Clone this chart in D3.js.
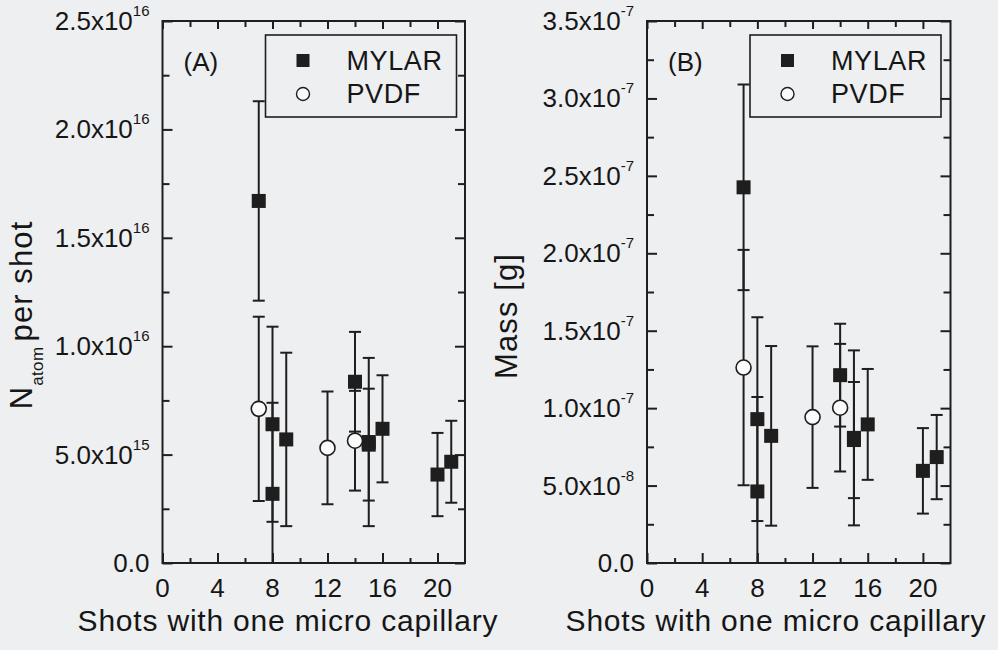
<!DOCTYPE html>
<html>
<head>
<meta charset="utf-8">
<title>Shots with one micro capillary</title>
<script src="https://cdn.jsdelivr.net/npm/d3@7"></script>
<style>
  body { margin:0; background:#eeeff1; }
  svg { display:block; font-family:"Liberation Sans", Arial, sans-serif; fill:#161616; }
  .ax line { stroke:#1e1e1e; stroke-width:2; }
  .ax text { display:none; }
  .ax .domain { display:none; }
</style>
</head>
<body>
<svg id="chart" width="998" height="650"></svg>
<script>
// shot number of every point
var mylarShots = [7, 8, 8, 9, 14, 15, 15, 16, 20, 21];
var pvdfShots  = [7, 12, 14];

// (A) atoms per shot
var mylarAtoms    = [16.7e15, 6.4e15, 3.19e15, 5.7e15, 8.36e15, 5.58e15, 5.46e15, 6.19e15, 4.08e15, 4.67e15];
var mylarAtomsErr = [4.6e15, 4.5e15, 4.2e15, 4.0e15, 2.3e15, 3.88e15, 2.58e15, 2.47e15, 1.92e15, 1.89e15];
var pvdfAtoms     = [7.11e15, 5.31e15, 5.64e15];
var pvdfAtomsErr  = [4.25e15, 2.6e15, 2.3e15];

// (B) mass in g
var mylarMass    = [24.26e-8, 9.29e-8, 4.62e-8, 8.21e-8, 12.13e-8, 8.08e-8, 7.94e-8, 8.95e-8, 5.95e-8, 6.84e-8];
var mylarMassErr = [6.64e-8, 6.58e-8, 6.1e-8, 5.8e-8, 3.32e-8, 5.65e-8, 3.75e-8, 3.58e-8, 2.76e-8, 2.72e-8];
var pvdfMass     = [12.62e-8, 9.42e-8, 10.03e-8];
var pvdfMassErr  = [7.6e-8, 4.57e-8, 4.12e-8];

// ticks
var xTicks = [0, 4, 8, 12, 16, 20];
var yTicksA = [0, 5e15, 1e16, 1.5e16, 2e16, 2.5e16];
var yLabelsA = ["0.0", "5.0x10^15", "1.0x10^16", "1.5x10^16", "2.0x10^16", "2.5x10^16"];
var yTicksB = [0, 0.5e-7, 1e-7, 1.5e-7, 2e-7, 2.5e-7, 3e-7, 3.5e-7];
var yLabelsB = ["0.0", "5.0x10^-8", "1.0x10^-7", "1.5x10^-7", "2.0x10^-7", "2.5x10^-7", "3.0x10^-7", "3.5x10^-7"];

var svg = d3.select("#chart");
var ink = "#1e1e1e";
var top_ = 21, bottom = 563;

function drawPanel(p) {
	var g = svg.append("g");
	var x = d3.scaleLinear().domain([0, 22]).range([p.left, p.right]);
	var y = d3.scaleLinear().domain([0, p.ymax]).range([bottom, top_]);

	var xMinor = d3.range(2, 22, 4);
	var yMinor = p.yticks.slice(0, -1).map(function(v, i) { return (v + p.yticks[i + 1]) / 2; });

	// inward ticks on all four sides
	g.append("g").attr("class", "ax").attr("transform", "translate(0," + bottom + ")")
		.call(d3.axisBottom(x).tickValues(xTicks).tickSize(-10));
	g.append("g").attr("class", "ax").attr("transform", "translate(0," + bottom + ")")
		.call(d3.axisBottom(x).tickValues(xMinor).tickSize(-5));
	g.append("g").attr("class", "ax").attr("transform", "translate(0," + top_ + ")")
		.call(d3.axisTop(x).tickValues(xTicks).tickSize(-8));
	g.append("g").attr("class", "ax").attr("transform", "translate(0," + top_ + ")")
		.call(d3.axisTop(x).tickValues(xMinor).tickSize(-6));
	g.append("g").attr("class", "ax").attr("transform", "translate(" + p.left + ",0)")
		.call(d3.axisLeft(y).tickValues(p.yticks).tickSize(-10));
	g.append("g").attr("class", "ax").attr("transform", "translate(" + p.left + ",0)")
		.call(d3.axisLeft(y).tickValues(yMinor).tickSize(-7));
	g.append("g").attr("class", "ax").attr("transform", "translate(" + p.right + ",0)")
		.call(d3.axisRight(y).tickValues(p.yticks).tickSize(-10));
	g.append("g").attr("class", "ax").attr("transform", "translate(" + p.right + ",0)")
		.call(d3.axisRight(y).tickValues(yMinor).tickSize(-7));

	g.append("rect")
		.attr("x", p.left).attr("y", top_)
		.attr("width", p.right - p.left).attr("height", bottom - top_)
		.style("fill", "none").style("stroke", ink).style("stroke-width", 2);

	// y tick labels with superscript exponent
	p.yticks.forEach(function(v, i) {
		var parts = p.ylabels[i].split("^");
		var t = g.append("text")
			.attr("x", p.left - 13).attr("y", y(v) + 9)
			.attr("text-anchor", "end")
			.style("font-size", "26px");
		t.append("tspan").text(parts[0]);
		if (parts[1]) {
			t.append("tspan").attr("dy", -14).style("font-size", "15px").text(parts[1]);
		}
	});

	// x tick labels
	xTicks.forEach(function(v) {
		g.append("text")
			.attr("x", x(v)).attr("y", 597)
			.attr("text-anchor", "middle")
			.style("font-size", "26px")
			.text(v);
	});

	// x title
	g.append("text")
		.attr("x", p.xTitleX).attr("y", 631)
		.attr("text-anchor", "middle")
		.style("font-size", "30px").style("letter-spacing", "0.8px")
		.text("Shots with one micro capillary");

	// y title
	var yt = g.append("text")
		.attr("transform", "translate(" + p.yTitleX + "," + p.yTitleY + ") rotate(-90)")
		.attr("text-anchor", "middle")
		.style("font-size", "31px").style("letter-spacing", "1.1px");
	p.ytitle(yt);

	// panel letter
	g.append("text")
		.attr("x", p.left + 21).attr("y", 71)
		.style("font-size", "26px")
		.text(p.letter);

	// error bars
	function bars(xs, vs, es) {
		xs.forEach(function(s, i) {
			var hi = vs[i] + es[i], lo = vs[i] - es[i];
			var cx = x(s);
			g.append("line")
				.attr("x1", cx).attr("x2", cx)
				.attr("y1", y(hi)).attr("y2", y(Math.max(lo, 0)))
				.style("stroke", ink).style("stroke-width", 2);
			g.append("line")
				.attr("x1", cx - 6).attr("x2", cx + 6)
				.attr("y1", y(hi)).attr("y2", y(hi))
				.style("stroke", ink).style("stroke-width", 2);
			if (lo > 0) {
				g.append("line")
					.attr("x1", cx - 6).attr("x2", cx + 6)
					.attr("y1", y(lo)).attr("y2", y(lo))
					.style("stroke", ink).style("stroke-width", 2);
			}
		});
	}
	bars(mylarShots, p.mylar, p.mylarErr);
	bars(pvdfShots, p.pvdf, p.pvdfErr);

	g.selectAll(".sq").data(mylarShots).enter().append("rect")
		.attr("x", function(d) { return x(d) - 7; })
		.attr("y", function(d, i) { return y(p.mylar[i]) - 7; })
		.attr("width", 14).attr("height", 14)
		.style("fill", ink);

	g.selectAll(".ci").data(pvdfShots).enter().append("circle")
		.attr("cx", function(d) { return x(d); })
		.attr("cy", function(d, i) { return y(p.pvdf[i]); })
		.attr("r", 7.5)
		.style("fill", "#fbfbfb").style("stroke", ink).style("stroke-width", 1.6);

	// legend
	var lx = p.left + 103;
	g.append("rect")
		.attr("x", lx).attr("y", 35)
		.attr("width", 191).attr("height", 82)
		.style("fill", "none").style("stroke", ink).style("stroke-width", 1.6);
	g.append("rect")
		.attr("x", lx + 31).attr("y", 54)
		.attr("width", 13).attr("height", 13)
		.style("fill", ink);
	g.append("circle")
		.attr("cx", lx + 37.5).attr("cy", 94)
		.attr("r", 6.5)
		.style("fill", "#fbfbfb").style("stroke", ink).style("stroke-width", 1.4);
	g.append("text").attr("x", lx + 81).attr("y", 70)
		.style("font-size", "27px").style("letter-spacing", "0.6px").text("MYLAR");
	g.append("text").attr("x", lx + 81).attr("y", 103)
		.style("font-size", "27px").style("letter-spacing", "0.6px").text("PVDF");
}

drawPanel({
	left: 162.5, right: 465, ymax: 2.5e16,
	yticks: yTicksA, ylabels: yLabelsA,
	mylar: mylarAtoms, mylarErr: mylarAtomsErr,
	pvdf: pvdfAtoms, pvdfErr: pvdfAtomsErr,
	letter: "(A)", xTitleX: 288, yTitleX: 32, yTitleY: 315,
	ytitle: function(t) {
		t.append("tspan").text("N");
		t.append("tspan").attr("dy", 11).style("font-size", "17px").style("letter-spacing", "0.4px").text("atom");
		t.append("tspan").attr("dy", -11).attr("dx", 5).text("per shot");
	}
});

drawPanel({
	left: 647, right: 950.5, ymax: 3.5e-7,
	yticks: yTicksB, ylabels: yLabelsB,
	mylar: mylarMass, mylarErr: mylarMassErr,
	pvdf: pvdfMass, pvdfErr: pvdfMassErr,
	letter: "(B)", xTitleX: 776, yTitleX: 517, yTitleY: 316,
	ytitle: function(t) {
		t.text("Mass [g]");
	}
});
</script>
</body>
</html>
